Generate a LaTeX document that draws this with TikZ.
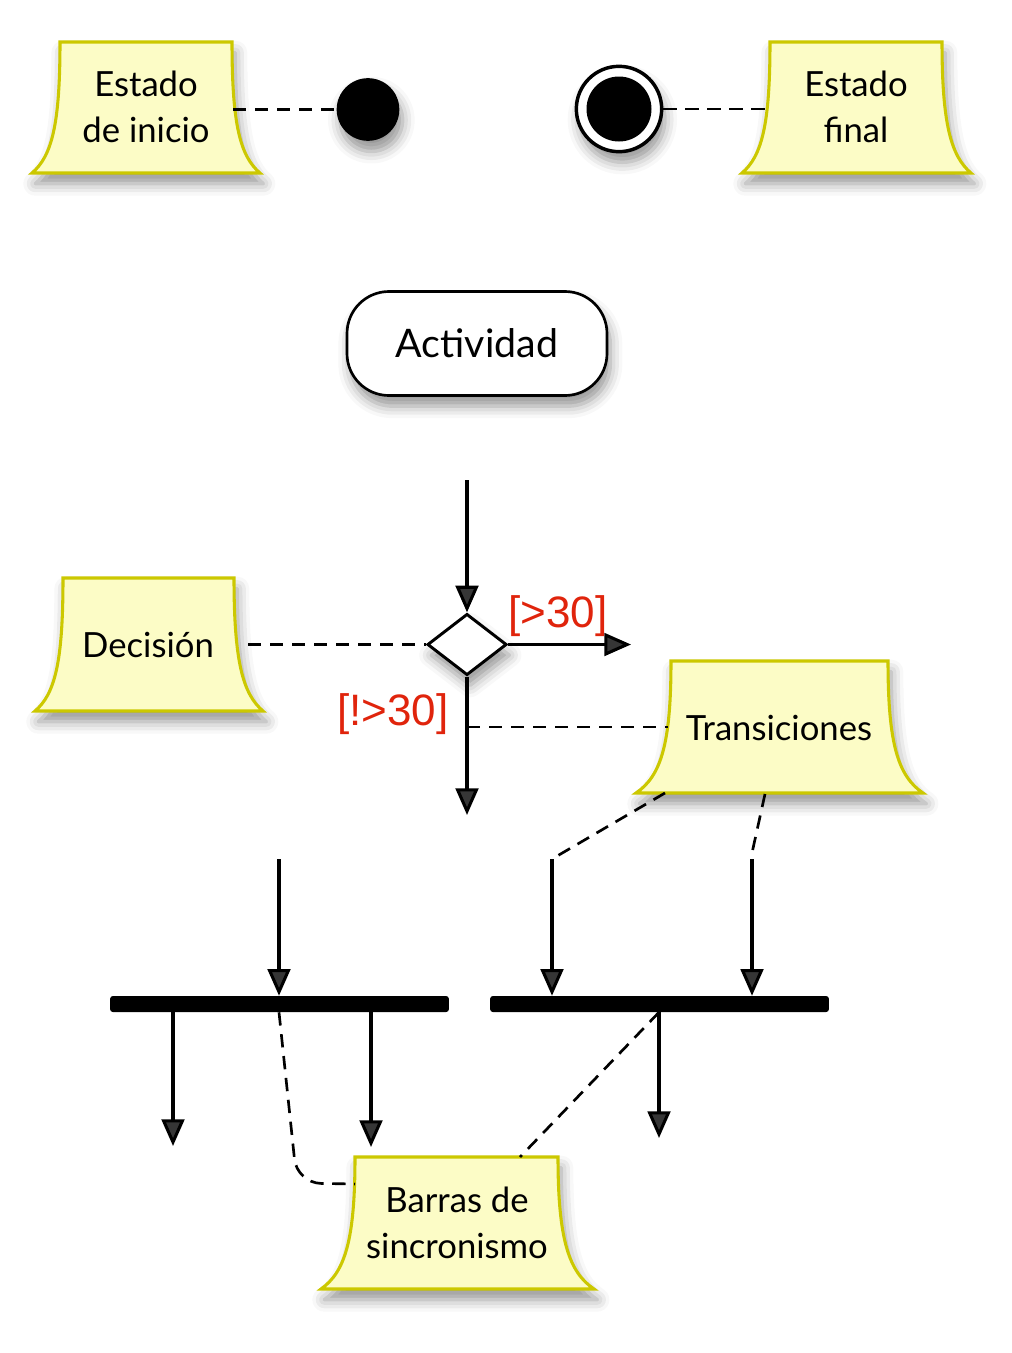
\documentclass[tikz,border=0pt]{standalone}
\usepackage{fontspec}
\setmainfont{Lato}
\newfontfamily\labelfont{Liberation Sans}
\usetikzlibrary{arrows.meta,shapes.geometric,shadows.blur}
\definecolor{notefill}{RGB}{252,252,198}
\definecolor{noteline}{RGB}{204,200,0}
\definecolor{guard}{RGB}{224,36,12}
\begin{document}
\begin{tikzpicture}[x=0.75pt,y=-0.75pt,
  shadowed/.style={blur shadow={shadow xshift=2.5pt,shadow yshift=-8pt,shadow blur radius=9pt,shadow opacity=42}},
  notebox/.style={fill=notefill,draw=noteline,line width=2.3pt,line join=miter,shadowed},
  notetext/.style={font=\fontsize{26}{34.5}\selectfont,align=center,inner sep=0pt},
  flow/.style={line width=2.3pt,-{Triangle[length=20pt,width=17pt]}},
  link/.style={line width=2pt,dash pattern=on 10pt off 6.5pt},
  guardtext/.style={font=\labelfont\fontsize{33}{36}\selectfont,text=guard,inner sep=0pt},
  bar/.style={fill=black,rounded corners=2pt,minimum width=254pt,minimum height=12pt,inner sep=0pt}
]
\useasboundingbox (0,0) rectangle (1012,1353);

% ---- Estado de inicio ----
\path[notebox] (60,42) -- (232,42) .. controls (232,124) and (240,156) .. (260,173) -- (32,173) .. controls (52,156) and (60,124) .. (60,42) -- cycle;
\node[notetext] (t1) at (146,107) {Estado\\de inicio};
\coordinate (n1e) at (233,109.5);
\node[circle,fill=black,minimum size=47pt,inner sep=0pt,shadowed] (init) at (368,109.5) {};
\draw[link] (n1e) -- (init.west);

% ---- Estado final ----
\path[notebox] (770,42) -- (942,42) .. controls (942,124) and (951,156) .. (971,173) -- (742,173) .. controls (762,156) and (770,124) .. (770,42) -- cycle;
\node[notetext] (t2) at (856,107) {Estado\\final};
\coordinate (n2w) at (769,109);
\node[circle,draw=black,fill=white,line width=2.6pt,minimum size=64pt,inner sep=0pt,shadowed] (fin) at (619,109) {};
\node[circle,fill=black,minimum size=48.75pt,inner sep=0pt] (finin) at (fin.center) {};
\draw[link] (fin.east) -- (n2w);

% ---- Actividad ----
\node[draw=black,line width=2pt,fill=white,rounded corners=31.5pt,minimum width=195pt,minimum height=78pt,inner sep=0pt,
      font=\fontsize{29.5}{32}\selectfont,text height=21pt,text depth=0pt,shadowed] (act) at (477,343.5) {Actividad};

% ---- Decision ----
\path[notebox] (63,578) -- (234,578) .. controls (234,662) and (243,694) .. (263,711) -- (35,711) .. controls (55,694) and (63,662) .. (63,578) -- cycle;
\node[notetext,anchor=base] (t3) at (148,657) {Decisión};
\coordinate (n3e) at (248,644.5);
\node[diamond,draw=black,fill=white,line width=2.2pt,minimum width=59.5pt,minimum height=46pt,inner sep=0pt,shadowed] (dec) at (467,644.5) {};
\coordinate (din) at (467,480);
\coordinate (dright) at (631,644.5);
\coordinate (ddown) at (467,815);
\draw[flow] (din) -- (dec.north);
\draw[flow] (dec.east) -- (dright);
\draw[flow] (dec.south) -- (ddown);
\draw[link] (n3e) -- (dec.west);
\node[guardtext,anchor=base] (g1) at (558,627) {[>30]};
\node[guardtext,anchor=base] (g2) at (393,725) {[!>30]};

% ---- Transiciones ----
\path[notebox] (671,661) -- (888,661) .. controls (888,744) and (898,776) .. (923,793) -- (636,793) .. controls (661,776) and (671,744) .. (671,661) -- cycle;
\node[notetext,anchor=base] (t4) at (779,740) {Transiciones};
\coordinate (n4w) at (668,727);
\coordinate (tap) at (467,727);
\draw[link] (tap) -- (n4w);
\coordinate (n4a) at (665,793);
\coordinate (n4b) at (765,794);
\coordinate (j1) at (552,859);
\coordinate (j2) at (752,853);
\coordinate (j2s) at (752,859);
\draw[link] (n4a) -- (j1);
\draw[link] (n4b) -- (j2);

% ---- Barras de sincronismo ----
\node[bar] (bar1) at (279.5,1004) {};
\node[bar] (bar2) at (659.5,1004) {};
\coordinate (b1in) at (279,859);
\draw[flow] (b1in) -- (b1in |- bar1.north);
\draw[flow] (j1) -- (j1 |- bar2.north);
\draw[flow] (j2s) -- (j2s |- bar2.north);
\coordinate (o1) at (173,1146);
\coordinate (o2) at (371,1147);
\coordinate (o3) at (659,1138);
\draw[flow] (o1 |- bar1.south) -- (o1);
\draw[flow] (o2 |- bar1.south) -- (o2);
\draw[flow] (o3 |- bar2.south) -- (o3);

\path[notebox] (355,1157) -- (558,1157) .. controls (558,1240) and (569,1272) .. (594,1289) -- (321,1289) .. controls (345,1272) and (355,1240) .. (355,1157) -- cycle;
\node[notetext] (t5) at (457,1223) {Barras de\\sincronismo};
\coordinate (n5w) at (355,1184);
\coordinate (n5n) at (520,1157);
\coordinate (cv) at (297,1183);
\draw[link] (o3 |- bar2.south) -- (n5n);
\draw[link,rounded corners=18pt] (b1in |- bar1.south) -- (cv) -- (n5w);
\end{tikzpicture}
\end{document}
